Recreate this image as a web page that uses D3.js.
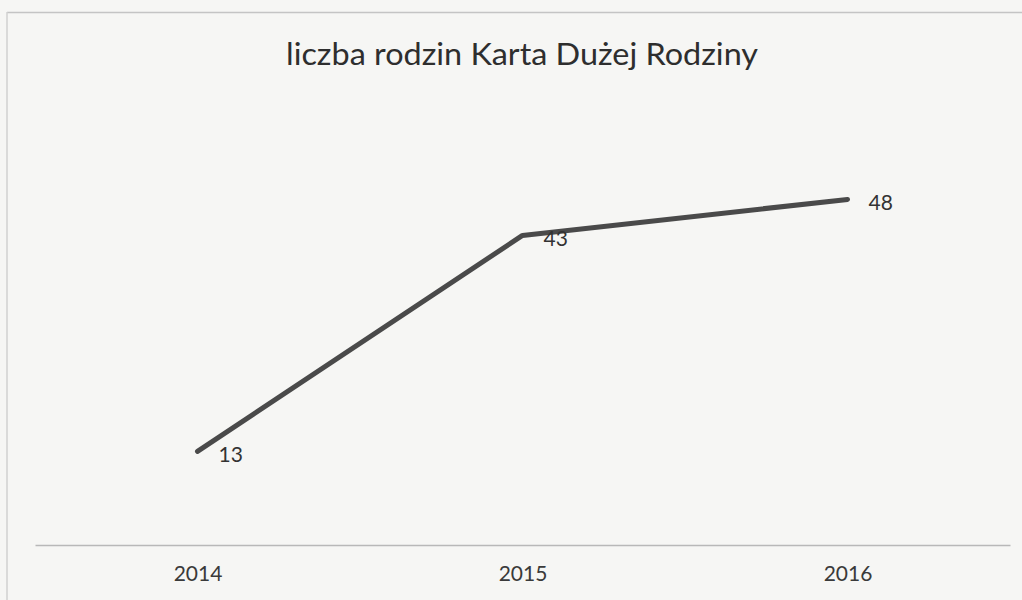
<!DOCTYPE html>
<html>
<head>
<meta charset="utf-8">
<script src="https://cdn.jsdelivr.net/npm/d3@7"></script>
<style>
  body { margin: 0; background: #f6f6f4; }
  svg { display: block; font-family: Lato, "Open Sans", sans-serif; }
</style>
</head>
<body>
<svg></svg>
<script>
var width = 1022;
var height = 600;

var years = ["2014", "2015", "2016"];
var families = [13, 43, 48];
var title = "liczba rodzin Karta Dużej Rodziny";

var svg = d3.select("svg")
              .attr("width", width)
              .attr("height", height);

// paper frame of the scanned chart
svg.append("line")
   .attr("x1", 7).attr("x2", width)
   .attr("y1", 12.5).attr("y2", 12.5)
   .attr("stroke", "#c4c4c4").attr("stroke-width", 1.5);
svg.append("line")
   .attr("x1", 7).attr("x2", 7)
   .attr("y1", 12).attr("y2", height)
   .attr("stroke", "#d0d0d0").attr("stroke-width", 1.5);

svg.append("text")
   .attr("x", 522)
   .attr("y", 65)
   .attr("text-anchor", "middle")
   .attr("font-size", 31)
   .attr("fill", "#2e2e2e")
   .attr("textLength", 472)
   .attr("lengthAdjust", "spacingAndGlyphs")
   .text(title);

var x = d3.scalePoint()
            .domain(years)
            .range([35, 1010])
            .padding(0.5);

var y = d3.scaleLinear()
            .domain([0, 60])
            .range([545, 113]);

// category axis: line only, labels below
var xAxis = svg.append("g")
               .attr("transform", "translate(0,545)")
               .call(d3.axisBottom(x).tickSize(0).tickPadding(21));
xAxis.select(".domain").attr("stroke", "#b8b8b8").attr("stroke-width", 1.5);
xAxis.selectAll("text")
     .attr("font-size", 21)
     .attr("font-family", "Lato, sans-serif")
     .attr("fill", "#3a3a3a");

var line = d3.line()
             .x((d, i) => x(years[i]))
             .y(d => y(d));

svg.append("path")
   .datum(families)
   .attr("d", line)
   .attr("fill", "none")
   .attr("stroke", "#4a4a4a")
   .attr("stroke-width", 5)
   .attr("stroke-linecap", "round")
   .attr("stroke-linejoin", "round");

svg.selectAll(".lbl")
   .data(families)
   .enter()
   .append("text")
     .attr("class", "lbl")
     .attr("x", (d, i) => x(years[i]) + 21)
     .attr("y", d => y(d) + 11)
     .attr("font-size", 21)
     .attr("fill", "#333")
     .text(d => d);
</script>
</body>
</html>
